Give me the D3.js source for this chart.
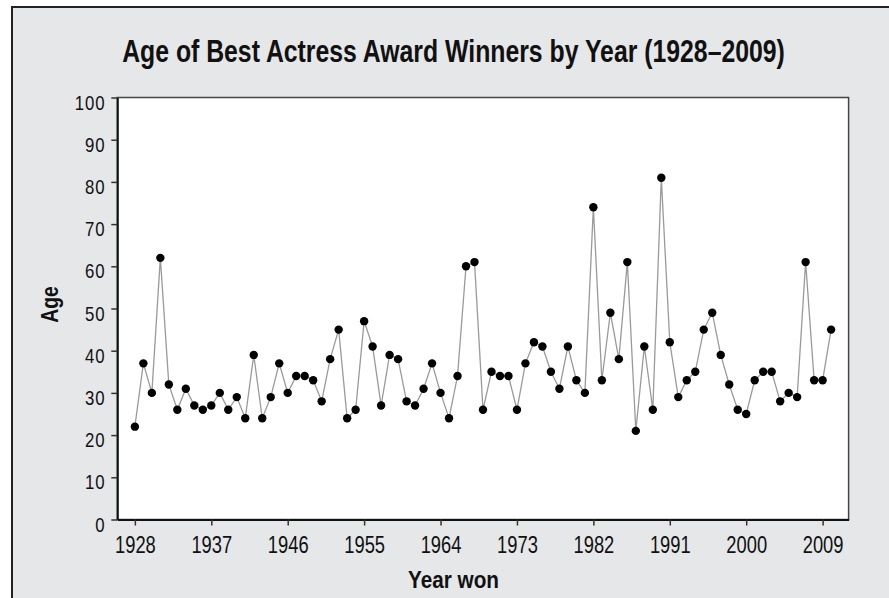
<!DOCTYPE html>
<html>
<head>
<meta charset="utf-8">
<script src="https://cdn.jsdelivr.net/npm/d3@7"></script>
<style>
  html, body { margin: 0; padding: 0; background: #ffffff; }
  svg { display: block; }
  text { font-family: "Liberation Sans", Arial, sans-serif; fill: #111; }
</style>
</head>
<body>
<svg id="chart" width="889" height="598"></svg>
<script>
const years = [1928,1929,1930,1931,1932,1933,1934,1935,1936,1937,1938,1939,1940,1941,1942,1943,1944,1945,1946,1947,
  1948,1949,1950,1951,1952,1953,1954,1955,1956,1957,1958,1959,1960,1961,1962,1963,1964,1965,1966,1967,
  1968,1969,1970,1971,1972,1973,1974,1975,1976,1977,1978,1979,1980,1981,1982,1983,1984,1985,1986,1987,
  1988,1989,1990,1991,1992,1993,1994,1995,1996,1997,1998,1999,2000,2001,2002,2003,2004,2005,2006,2007,
  2008,2009,2010];
const ages = [22,37,30,62,32,26,31,27,26,27,30,26,29,24,39,24,29,37,30,34,
  34,33,28,38,45,24,26,47,41,27,39,38,28,27,31,37,30,24,34,60,
  61,26,35,34,34,26,37,42,41,35,31,41,33,30,74,33,49,38,61,21,
  41,26,81,42,29,33,35,45,49,39,32,26,25,33,35,35,28,30,29,61,
  33,33,45];
const xTicks = [1928,1937,1946,1955,1964,1973,1982,1991,2000,2009];
const yTicks = [0,10,20,30,40,50,60,70,80,90,100];
const title = "Age of Best Actress Award Winners by Year (1928\u20132009)";
const xLabel = "Year won";
const yLabel = "Age";

const data = years.map((y, i) => ({year: y, age: ages[i]}));

const svg = d3.select("#chart");
const plot = {left: 117.3, right: 848.6, top: 97.5, bottom: 519.5};

// outer panel
svg.append("rect").attr("x", 12).attr("y", 7).attr("width", 900).attr("height", 620)
  .attr("fill", "#e6e7e9").attr("stroke", "#222").attr("stroke-width", 2);

const x = d3.scaleLinear().domain([1925.93, 2012.06]).range([plot.left, plot.right]);
const y = d3.scaleLinear().domain([0, 100]).range([plot.bottom, plot.top]);

// plot background
svg.append("rect").attr("x", plot.left).attr("y", plot.top)
  .attr("width", plot.right - plot.left).attr("height", plot.bottom - plot.top)
  .attr("fill", "#fff").attr("stroke", "#444").attr("stroke-width", 1.5);

// axes
const xs = 0.78;
const xAxis = d3.axisBottom(x).tickValues(xTicks).tickFormat(d3.format("d")).tickSizeOuter(0).tickSizeInner(6);
const gx = svg.append("g").attr("transform", `translate(0,${plot.bottom})`).call(xAxis);
gx.select(".domain").attr("stroke", "#111").attr("stroke-width", 2);
gx.selectAll(".tick line").attr("stroke", "#333").attr("stroke-width", 1.5);
gx.selectAll(".tick text").attr("font-size", 23.5).attr("fill", "#111")
  .attr("y", 33.5).attr("dy", null)
  .attr("transform", `scale(${xs},1)`)
  .style("font-family", '"Liberation Sans", Arial, sans-serif');

const ys = 0.84;
const yAxis = d3.axisLeft(y).tickValues(yTicks).tickSizeOuter(0).tickSizeInner(6);
const gy = svg.append("g").attr("transform", `translate(${plot.left},0)`).call(yAxis);
gy.select(".domain").attr("stroke", "#111").attr("stroke-width", 2);
gy.selectAll(".tick line").attr("stroke", "#333").attr("stroke-width", 1.5);
gy.selectAll(".tick text").attr("font-size", 20).attr("fill", "#111")
  .attr("x", -12 / ys).attr("y", 11.5).attr("dy", null)
  .attr("letter-spacing", "1px")
  .attr("transform", `scale(${ys},1)`)
  .style("font-family", '"Liberation Sans", Arial, sans-serif');

// line
const line = d3.line().x(d => x(d.year)).y(d => y(d.age));
svg.append("path").datum(data).attr("d", line)
  .attr("fill", "none").attr("stroke", "#9a9a9a").attr("stroke-width", 1.3);

// points
svg.append("g").selectAll("circle").data(data).join("circle")
  .attr("cx", d => x(d.year)).attr("cy", d => y(d.age)).attr("r", 4.2)
  .attr("fill", "#000");

// condensed text helper: scale horizontally to a target width
function fitText(g, targetWidth) {
  const t = g.select("text");
  const w = t.node().getComputedTextLength();
  t.attr("transform", `scale(${targetWidth / w},1)`);
}

// title
const gt = svg.append("g").attr("transform", "translate(453.5,62)");
gt.append("text").attr("text-anchor", "middle").attr("font-size", 31).attr("font-weight", "bold").text(title);
fitText(gt, 663);

// axis labels
const gxl = svg.append("g").attr("transform", "translate(453.5,587.5)");
gxl.append("text").attr("text-anchor", "middle").attr("font-size", 24).attr("font-weight", "bold").text(xLabel);
fitText(gxl, 91);

const gyl = svg.append("g").attr("transform", "translate(58,304.5) rotate(-90)");
gyl.append("text").attr("text-anchor", "middle").attr("font-size", 23).attr("font-weight", "bold").text(yLabel);
fitText(gyl, 36.5);
</script>
</body>
</html>
